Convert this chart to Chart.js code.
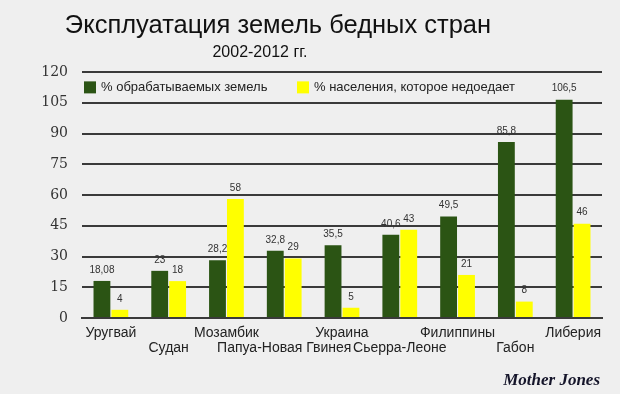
<!DOCTYPE html>
<html>
<head>
<meta charset="utf-8">
<script src="https://cdn.jsdelivr.net/npm/chart.js@4/dist/chart.umd.min.js"></script>
<style>
  html, body { margin: 0; padding: 0; background: #efefef; }
  #wrap { position: relative; width: 620px; height: 394px; }
</style>
</head>
<body>
<div id="wrap"><canvas id="landChart" width="620" height="394"></canvas></div>
<script>
const countries = ['Уругвай', 'Судан', 'Мозамбик', 'Папуа-Новая Гвинея', 'Украина', 'Сьерра-Леоне', 'Филиппины', 'Габон', 'Либерия'];
const farmedLand = [18.08, 23, 28.2, 32.8, 35.5, 40.6, 49.5, 85.8, 106.5];
const undernourished = [4, 18, 58, 29, 5, 43, 21, 8, 46];
const yTicks = [0, 15, 30, 45, 60, 75, 90, 105, 120];
const seriesNames = ['% обрабатываемых земель', '% населения, которое недоедает'];

// staggered labels: every second one drops to the second line
const xLabels = countries.map((c, i) => i % 2 === 0 ? [c] : ['', c]);

const fmt = v => String(v).replace('.', ',');

const decorPlugin = {
    id: 'decor',
    afterDatasetsDraw(chart) {
        const ctx = chart.ctx;
        ctx.save();
        // value labels above the bars
        ctx.font = '10px Arial, "Liberation Sans"';
        ctx.fillStyle = '#333';
        ctx.textAlign = 'center';
        ctx.textBaseline = 'bottom';
        chart.data.datasets.forEach((ds, di) => {
            chart.getDatasetMeta(di).data.forEach((bar, i) => {
                ctx.fillText(fmt(ds.data[i]), bar.x, bar.y - 6);
            });
        });

        // legend inside the plot area
        const area = chart.chartArea;
        const ly = chart.scales.y.getPixelForValue(112.5);
        let lx = area.left + 2;
        ctx.font = '13px Arial, "Liberation Sans"';
        ctx.textAlign = 'left';
        ctx.textBaseline = 'middle';
        chart.data.datasets.forEach((ds, di) => {
            ctx.fillStyle = ds.backgroundColor;
            ctx.fillRect(lx, ly - 6, 12, 12);
            ctx.fillStyle = '#222';
            ctx.fillText(seriesNames[di], lx + 17, ly);
            lx += 213;
        });

        // titles
        ctx.textAlign = 'center';
        ctx.textBaseline = 'alphabetic';
        ctx.fillStyle = '#111';
        ctx.font = '25.5px Arial, "Liberation Sans"';
        ctx.fillText('Эксплуатация земель бедных стран', 278, 33);
        ctx.font = '16px Arial, "Liberation Sans"';
        ctx.fillText('2002-2012 гг.', 260, 57);

        // source
        ctx.textAlign = 'right';
        ctx.fillStyle = '#15152a';
        ctx.font = 'italic bold 17px "Liberation Serif", "DejaVu Serif"';
        ctx.fillText('Mother Jones', 600, 385);
        ctx.restore();
    }
};

const ctx = document.getElementById('landChart').getContext('2d');
const landChart = new Chart(ctx, {
    type: 'bar',
    data: {
        labels: xLabels,
        datasets: [
            { label: seriesNames[0], data: farmedLand, backgroundColor: '#2b5414', barPercentage: 0.94, categoryPercentage: 0.62 },
            { label: seriesNames[1], data: undernourished, backgroundColor: '#ffff00', barPercentage: 0.94, categoryPercentage: 0.62 }
        ]
    },
    options: {
        responsive: false,
        animation: false,
        layout: { padding: { top: 72, right: 18, left: 0, bottom: 0 } },
        scales: {
            y: {
                min: 0, max: 120,
                afterBuildTicks: s => { s.ticks = yTicks.map(v => ({ value: v })); },
                afterFit: s => { s.width = 82; },
                border: { display: false },
                grid: { color: '#3a3a3a', lineWidth: 2, drawTicks: false },
                ticks: { color: '#333', padding: 14, font: { family: '"DejaVu Serif", "Liberation Serif"', size: 14 } }
            },
            x: {
                afterFit: s => { s.height = 76; },
                border: { display: true, color: '#3a3a3a', width: 2 },
                grid: { display: false },
                ticks: { color: '#222', padding: 0, maxRotation: 0, autoSkip: false, font: { family: 'Arial, "Liberation Sans"', size: 14, lineHeight: 1.05 } }
            }
        },
        plugins: { legend: { display: false }, tooltip: { enabled: false } }
    },
    plugins: [decorPlugin]
});
</script>
</body>
</html>
